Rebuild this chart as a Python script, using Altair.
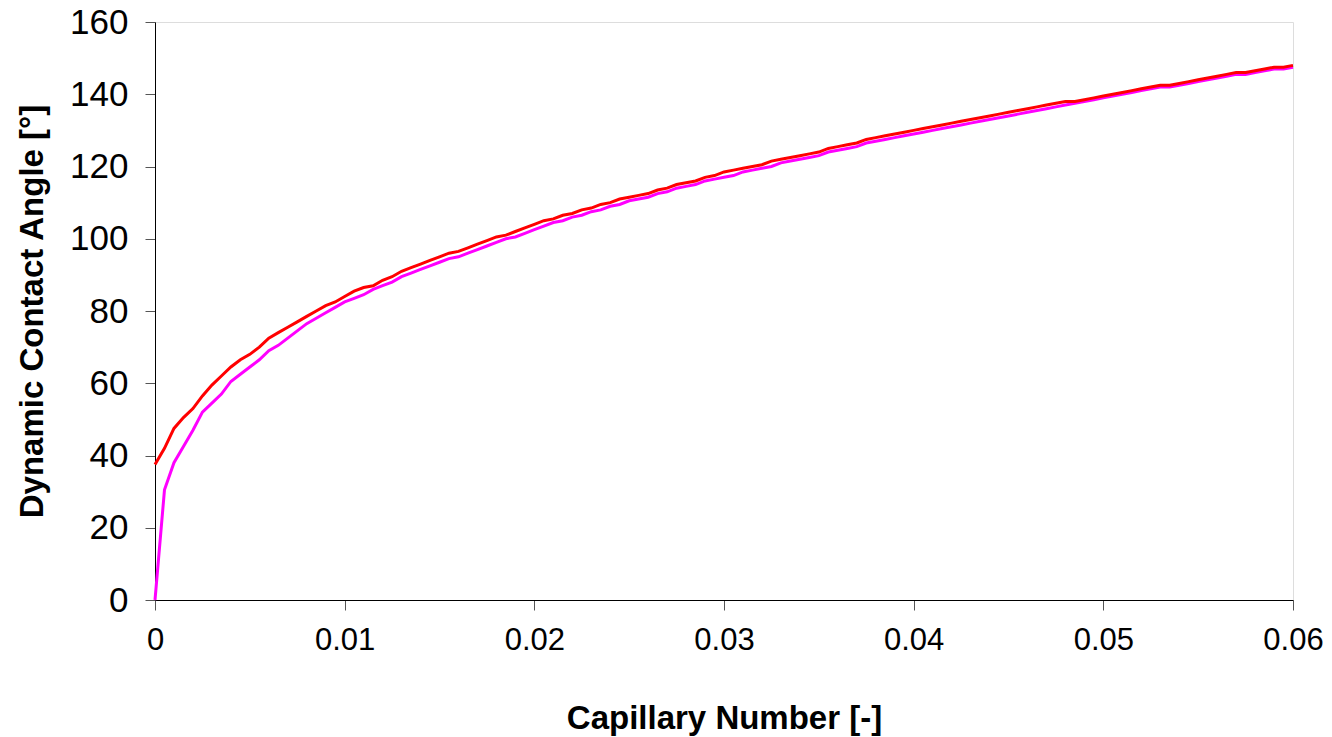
import altair as alt
import pandas as pd

capillary = [round(i * 0.0005, 4) for i in range(121)]

angle_red = [
    37.5, 42, 47.5, 50.5, 53, 56.5, 59.5, 62, 64.5, 66.5,
    68, 70, 72.5, 74, 75.5, 77, 78.5, 80, 81.5, 82.5,
    84, 85.5, 86.5, 87, 88.5, 89.5, 91, 92, 93, 94,
    95, 96, 96.5, 97.5, 98.5, 99.5, 100.5, 101, 102, 103,
    104, 105, 105.5, 106.5, 107, 108, 108.5, 109.5, 110, 111,
    111.5, 112, 112.5, 113.5, 114, 115, 115.5, 116, 117, 117.5,
    118.5, 119, 119.5, 120, 120.5, 121.5, 122, 122.5, 123, 123.5,
    124, 125, 125.5, 126, 126.5, 127.5, 128, 128.5, 129, 129.5,
    130, 130.5, 131, 131.5, 132, 132.5, 133, 133.5, 134, 134.5,
    135, 135.5, 136, 136.5, 137, 137.5, 138, 138, 138.5, 139,
    139.5, 140, 140.5, 141, 141.5, 142, 142.5, 142.5, 143, 143.5,
    144, 144.5, 145, 145.5, 146, 146, 146.5, 147, 147.5, 147.5,
    148,
]

angle_magenta = [
    0, 30.5, 38, 42.5, 47, 52, 54.5, 57, 60.5, 62.5,
    64.5, 66.5, 69, 70.5, 72.5, 74.5, 76.5, 78, 79.5, 81,
    82.5, 83.5, 84.5, 86, 87, 88, 89.5, 90.5, 91.5, 92.5,
    93.5, 94.5, 95, 96, 97, 98, 99, 100, 100.5, 101.5,
    102.5, 103.5, 104.5, 105, 106, 106.5, 107.5, 108, 109, 109.5,
    110.5, 111, 111.5, 112.5, 113, 114, 114.5, 115, 116, 116.5,
    117, 117.5, 118.5, 119, 119.5, 120, 121, 121.5, 122, 122.5,
    123, 124, 124.5, 125, 125.5, 126.5, 127, 127.5, 128, 128.5,
    129, 129.5, 130, 130.5, 131, 131.5, 132, 132.5, 133, 133.5,
    134, 134.5, 135, 135.5, 136, 136.5, 137, 137.5, 138, 138.5,
    139, 139.5, 140, 140.5, 141, 141.5, 142, 142, 142.5, 143,
    143.5, 144, 144.5, 145, 145.5, 145.5, 146, 146.5, 147, 147,
    147.5,
]

series_names = ["Magenta", "Red"]
series_colors = ["#FF00FF", "#FF0000"]

rows = []
for name, vals in zip(series_names, [angle_magenta, angle_red]):
    for order, (c, a) in enumerate(zip(capillary, vals)):
        rows.append({"series": name, "Ca": c, "angle": a, "order": order})
df = pd.DataFrame(rows)

FONT = "Liberation Sans"

chart = alt.Chart(df).mark_line(strokeWidth=3, clip=False).encode(
    x=alt.X(
        "Ca:Q",
        title="Capillary Number [-]",
        scale=alt.Scale(domain=[0, 0.06], nice=False, zero=False),
        axis=alt.Axis(
            values=[0, 0.01, 0.02, 0.03, 0.04, 0.05, 0.06],
            format="~g",
            grid=False,
            tickSize=10,
            tickColor="#555555",
            domainColor="#000000",
            labelFontSize=31,
            labelFont=FONT,
            labelColor="#000000",
            labelPadding=15,
            labelFlush=False,
            labelOverlap=False,
            titleFont=FONT,
            titleFontSize=33,
            titleFontWeight="bold",
            titleColor="#000000",
            titlePadding=47,
        ),
    ),
    y=alt.Y(
        "angle:Q",
        title="Dynamic Contact Angle [°]",
        scale=alt.Scale(domain=[0, 160], nice=False),
        axis=alt.Axis(
            values=[0, 20, 40, 60, 80, 100, 120, 140, 160],
            grid=False,
            tickSize=10,
            tickColor="#555555",
            domainColor="#000000",
            labelFontSize=35,
            labelFont=FONT,
            labelColor="#000000",
            labelPadding=17,
            labelFlush=False,
            labelOverlap=False,
            titleFont=FONT,
            titleFontSize=33,
            titleFontWeight="bold",
            titleColor="#000000",
            titlePadding=20,
        ),
    ),
    color=alt.Color(
        "series:N",
        scale=alt.Scale(domain=series_names, range=series_colors),
        legend=None,
    ),
    order=alt.Order("order:Q"),
).properties(
    width=1138,
    height=578,
    autosize=alt.AutoSizeParams(type="none"),
    padding={"left": 147, "top": 14, "right": 31, "bottom": 136},
).configure_view(
    stroke=None
).configure(
    background="#FFFFFF"
)

chart.save("out.html", embed_options={"renderer": "svg", "actions": False})
